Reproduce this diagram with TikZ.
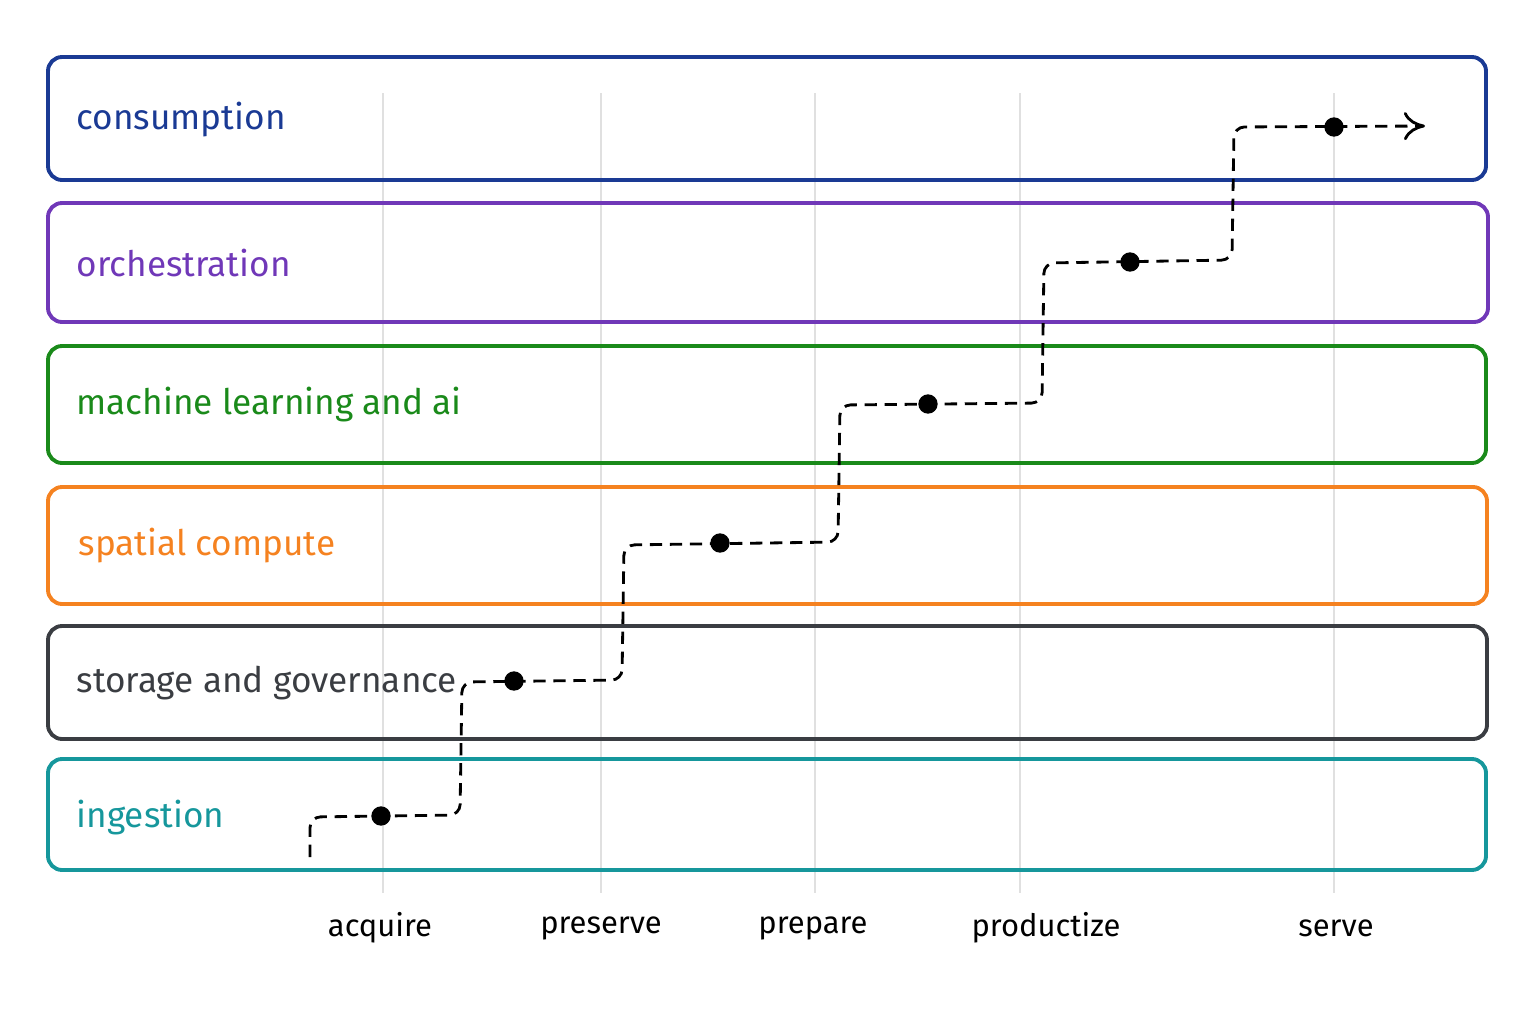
\documentclass[tikz,border=0pt]{standalone}
\usepackage{fontspec}
\setmainfont{Fira Sans}
\usetikzlibrary{arrows.meta}
\definecolor{cblue}{HTML}{1A3A94}
\definecolor{cpurple}{HTML}{7038B8}
\definecolor{cgreen}{HTML}{1A8A1A}
\definecolor{corange}{HTML}{F58220}
\definecolor{cgray}{HTML}{3A3D42}
\definecolor{cteal}{HTML}{16979C}
\tikzset{
  band/.style={draw=#1, line width=1.1pt, rounded corners=4pt},
  bandlabel/.style={text=#1, anchor=west, inner sep=0pt, font=\fontsize{10}{12}\selectfont},
  grid line/.style={draw=black!12, line width=0.6pt},
  stage/.style={font=\fontsize{8.8}{11}\selectfont},
  dot/.style={circle, fill=black, inner sep=0pt, minimum size=5.5pt},
  flow/.style={line width=0.8pt, dash pattern=on 3.5pt off 2.2pt}
}
\begin{document}
\begin{tikzpicture}[x=0.01cm,y=-0.01cm]
    \useasboundingbox (0,0) rectangle (1536,1024);
    %grid and stages
    \foreach \x/\name/\lx in {383/acquire/380, 601/preserve/601, 815/prepare/813, 1020/productize/1046, 1334/serve/1336}{
      \draw[grid line] (\x,93) -- (\x,893);
      \node[stage] (\name) at (\lx,928) {\name};
    }
    %bands
    \draw[band=cblue]   (48,57)  rectangle (1486,180);
    \draw[band=cpurple] (48,203) rectangle (1488,322);
    \draw[band=cgreen]  (48,346) rectangle (1486,463);
    \draw[band=corange] (48,487) rectangle (1487,604);
    \draw[band=cgray]   (48,626) rectangle (1487,739);
    \draw[band=cteal]   (48,759) rectangle (1486,870);
    \node[bandlabel=cblue]   (consumption) at (76,120) {consumption};
    \node[bandlabel=cpurple] (orchestration) at (76,263) {orchestration};
    \node[bandlabel=cgreen]  (ml) at (76,405) {machine learning and ai};
    \node[bandlabel=corange] (spatial) at (78,546) {spatial compute};
    \node[bandlabel=cgray]   (storage) at (76,683) {storage and governance};
    \node[bandlabel=cteal]   (ingestion) at (76,818) {ingestion};
    %path
    \coordinate (s0) at (310,857);
    \coordinate (s1) at (310,817);
    \coordinate (s2) at (460,815);
    \coordinate (s3) at (462,682);
    \coordinate (s4) at (622,680);
    \coordinate (s5) at (624,545);
    \coordinate (s6) at (838,542);
    \coordinate (s7) at (840,405);
    \coordinate (s8) at (1042,403);
    \coordinate (s9) at (1044,263);
    \coordinate (s10) at (1232,260);
    \coordinate (s11) at (1234,127);
    \coordinate (end) at (1425,126);
    \draw[flow, rounded corners=3pt, -{To[length=6pt,width=8pt]}]
      (s0) -- (s1) -- (s2) -- (s3) -- (s4) -- (s5) -- (s6) -- (s7) -- (s8) -- (s9) -- (s10) -- (s11) -- (end);
    \node[dot] (d1) at (381,816) {};
    \node[dot] (d2) at (514,681) {};
    \node[dot] (d3) at (720,543) {};
    \node[dot] (d4) at (928,404) {};
    \node[dot] (d5) at (1130,262) {};
    \node[dot] (d6) at (1334,127) {};
\end{tikzpicture}
\end{document}
